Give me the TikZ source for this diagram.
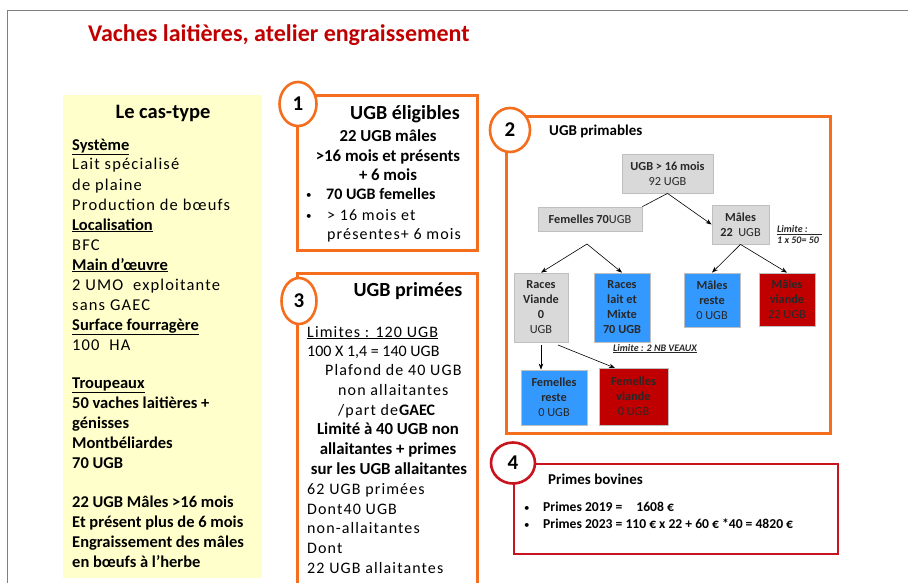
\documentclass[tikz,border=0pt]{standalone}
\usepackage{fontspec}
\setmainfont{Carlito}
\newfontfamily\spc[LetterSpace=7]{Carlito}
\usetikzlibrary{arrows.meta,shapes.geometric}
\definecolor{ttl}{RGB}{192,0,0}
\definecolor{orng}{RGB}{245,110,30}
\definecolor{ylw}{RGB}{255,255,204}
\definecolor{tgray}{RGB}{217,217,217}
\definecolor{tblue}{RGB}{51,153,255}
\definecolor{tred}{RGB}{192,0,0}
\definecolor{bred}{RGB}{200,20,30}
\definecolor{dtxt}{RGB}{40,40,40}
\tikzset{
  txt/.style={anchor=base west, inner sep=0pt},
  ctxt/.style={anchor=base, inner sep=0pt},
  lbody/.style={txt, font=\fontsize{16.5}{20}\selectfont},
  bbody/.style={txt, font=\fontsize{16}{20}\selectfont},
  cbody/.style={ctxt, font=\fontsize{16.8}{20}\selectfont},
  bul/.style={txt, font=\fontsize{11}{20}\selectfont},
  head/.style={ctxt, font=\fontsize{20}{24}\selectfont\bfseries},
  obox/.style={draw=orng, line width=3pt, fill=white},
  numc/.style={ellipse, draw=#1, line width=2.6pt, fill=white, inner sep=0pt,
     font=\fontsize{21}{24}\selectfont\bfseries},
  tnode/.style={draw=black!25, line width=0.8pt, fill=#1, align=center, inner sep=1pt,
     text=dtxt, font=\fontsize{12.3}{15}\selectfont},
  arr/.style={-{Stealth[length=6pt,width=4.5pt]}, line width=0.6pt},
  lim/.style={inner sep=0pt, font=\fontsize{10}{11}\selectfont\bfseries\itshape, text=dtxt},
  pr/.style={txt, font=\fontsize{13.6}{15}\selectfont\bfseries},
}
\begin{document}
\begin{tikzpicture}[x=1pt,y=-1pt]
\clip (0,0) rectangle (908,583);
\fill[white] (0,0) rectangle (908,583);
% outer frame
\draw[black!50, line width=1pt] (7,590) -- (7,11) -- (915,11);
% title
\node[txt, text=ttl, font=\fontsize{24}{28}\selectfont\bfseries] (title) at (88,42) {Vaches laitières, atelier engraissement};

% left yellow box
\fill[ylw] (63,95) rectangle (262,578);
\node[head, font=\fontsize{20.5}{24}\selectfont\bfseries] (lehead) at (163,119) {Le cas-type};
\foreach \yy/\tt in {
  150/{\textbf{\underline{Système}}},
  170/{\spc Lait spécialisé},
  190/{\spc de plaine},
  210/{\spc Production de bœufs},
  230/{\textbf{\underline{Localisation}}},
  250/{\spc BFC},
  270/{\textbf{\underline{Main d’œuvre}}},
  290/{\spc 2 UMO\ \ exploitante},
  310/{\spc sans GAEC},
  330/{\textbf{\underline{Surface fourragère}}},
  350/{\spc 100\ \ HA},
  388/{\textbf{\underline{Troupeaux}}},
  408/{\textbf{50 vaches laitières +}},
  428/{\textbf{génisses}},
  448/{\textbf{Montbéliardes}},
  468/{\textbf{70 UGB}},
  507/{\textbf{22 UGB Mâles >16 mois}},
  527/{\textbf{Et présent plus de 6 mois}},
  547/{\textbf{Engraissement des mâles}},
  567/{\textbf{en bœufs à l’herbe}}}
  {\node[lbody] (L\yy) at (72,\yy) {\tt};}

% box 1
\draw[obox] (297,96) rectangle (477,250);
\node[numc=orng, minimum width=37pt, minimum height=44pt] (c1) at (298,104) {1};
\node[head] (h1) at (405,120) {UGB éligibles};
\node[cbody] (b1a) at (388,142) {\textbf{22 UGB mâles}};
\node[cbody] (b1b) at (388,161) {\textbf{>16 mois et présents}};
\node[cbody] (b1c) at (388,180) {\textbf{+ 6 mois}};
\node[bul] (b1d) at (306,199) {•};
\node[bbody] (b1e) at (326,200) {\textbf{70 UGB femelles}};
\node[bul] (b1f) at (306,219) {•};
\node[bbody] (b1g) at (327,220) {\spc > 16 mois et};
\node[bbody] (b1h) at (327,239) {\spc présentes+ 6 mois};

% box 3
\draw[obox] (297,273) rectangle (477,600);
\node[numc=orng, minimum width=35pt, minimum height=46pt] (c3) at (299,301) {3};
\node[head] (h3) at (408,296) {UGB primées};
\node[bbody] (b3a) at (307,337) {\spc\underline{Limites : 120 UGB}};
\node[bbody] (b3b) at (307,356) {100 X 1,4 = 140 UGB};
\node[bbody] (b3c) at (325,375) {\spc Plafond de 40 UGB};
\node[bbody] (b3d) at (338,395) {\spc non allaitantes};
\node[bbody] (b3e) at (338,415) {{\spc /part de}\textbf{GAEC}};
\node[cbody] (b3f) at (388,434) {\textbf{Limité à 40 UGB non}};
\node[cbody] (b3g) at (388,454) {\textbf{allaitantes + primes}};
\node[cbody] (b3h) at (389,474) {\textbf{sur les UGB allaitantes}};
\node[bbody] (b3i) at (307,494) {\spc 62 UGB primées};
\node[bbody] (b3j) at (307,514) {\spc Dont40 UGB};
\node[bbody] (b3k) at (307,533) {\spc non-allaitantes};
\node[bbody] (b3l) at (307,553) {\spc Dont};
\node[bbody] (b3m) at (307,573) {\spc 22 UGB allaitantes};

% box 2
\draw[obox] (506,117) rectangle (830,433);
\node[numc=orng, minimum width=40pt, minimum height=44pt] (c2) at (510,130) {2};
\node[txt, font=\fontsize{15}{18}\selectfont\bfseries] (h2) at (549,136) {UGB primables};

\node[tnode=tgray, minimum width=91pt, minimum height=39pt] (top) at (667.5,173.5) {\textbf{UGB > 16 mois}\\92 UGB};
\node[tnode=tgray, minimum width=104pt, minimum height=24pt] (fem) at (590,219) {\textbf{Femelles 70}UGB};
\node[tnode=tgray, minimum width=57pt, minimum height=39pt] (mal) at (740.5,224.5) {\textbf{Mâles}\\\textbf{22}\ \ UGB};
\node[tnode=tgray, minimum width=54pt, minimum height=69pt] (rv) at (541,307.5) {\textbf{Races}\\\textbf{Viande}\\\textbf{0}\\UGB};
\node[tnode=tblue, minimum width=56pt, minimum height=69pt] (rl) at (622,307.5) {\textbf{Races}\\\textbf{lait et}\\\textbf{Mixte}\\\textbf{70 UGB}};
\node[tnode=tblue, minimum width=56pt, minimum height=54pt] (mr) at (712,300) {\textbf{Mâles}\\\textbf{reste}\\0 UGB};
\node[tnode=tred, minimum width=56pt, minimum height=53pt] (mv) at (787,299.5) {\textbf{Mâles}\\\textbf{viande}\\22 UGB};
\node[tnode=tblue, minimum width=66pt, minimum height=55pt] (fr) at (554,397.5) {\textbf{Femelles}\\\textbf{reste}\\0 UGB};
\node[tnode=tred, minimum width=69pt, minimum height=57pt] (fv) at (633.5,396.5) {\textbf{Femelles}\\\textbf{viande}\\0 UGB};

\coordinate (fsplit) at (587,244);
\coordinate (rvsplit) at (558,345);
\coordinate (fvin) at (615,368);
\draw[line width=0.6pt] (top.south) -- (fem.north east);
\draw[arr] (top.south) -- (mal.west);
\draw[arr] (fsplit) -- (rv.north);
\draw[arr] (fsplit) -- (rl.north);
\draw[arr] (mal.south) -- (mr.north);
\draw[arr] (mal.south) -- (mv.north);
\draw[arr] ([yshift=-3pt]rv.south) -- (rv.south |- fr.north);
\draw[arr] (rvsplit) -- (fvin);

\node[lim, anchor=base west] (lim1) at (613,351) {\underline{Limite : 2 NB VEAUX}};
\node[lim, anchor=base west, align=left] (lim2) at (777,243) {\underline{Limite :\hspace{14pt}}\\[-1pt]1 x 50= 50};

% box 4
\draw[draw=bred, line width=2.6pt, fill=white] (514,464) rectangle (838,554);
\node[numc=bred, minimum width=44pt, minimum height=41pt] (c4) at (513,463) {4};
\node[txt, font=\fontsize{15}{18}\selectfont\bfseries] (h4) at (548,484) {Primes bovines};
\node[bul] (p1b) at (524,511) {•};
\node[pr] (p1) at (543,511) {Primes 2019 =\hspace{14pt}1608 €};
\node[bul] (p2b) at (524,528) {•};
\node[pr] (p2) at (543,528) {Primes 2023 = 110 € x 22 + 60 € *40 = 4820 €};
\end{tikzpicture}
\end{document}
